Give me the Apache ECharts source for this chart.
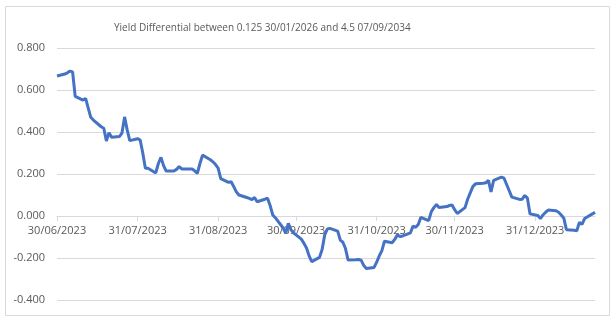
<!DOCTYPE html>
<html>
<head>
<meta charset="utf-8">
<script src="https://cdn.jsdelivr.net/npm/echarts@6/dist/echarts.min.js"></script>
<style>
  html, body { margin: 0; padding: 0; background: #fff; }
  #chart { width: 616px; height: 322px; }
</style>
</head>
<body>
<div id="chart"></div>
<script>
const startDay = '30/06/2023';
const endDay = '23/01/2024';

const tickLabels = ['30/06/2023', '31/07/2023', '31/08/2023', '30/09/2023', '31/10/2023', '30/11/2023', '31/12/2023'];

const dates = [
  '30/06/2023', '03/07/2023', '04/07/2023', '05/07/2023', '06/07/2023', '07/07/2023',
  '10/07/2023', '11/07/2023', '12/07/2023', '13/07/2023', '14/07/2023',
  '17/07/2023', '18/07/2023', '19/07/2023', '20/07/2023', '21/07/2023',
  '24/07/2023', '25/07/2023', '26/07/2023', '27/07/2023', '28/07/2023',
  '31/07/2023', '01/08/2023', '02/08/2023', '03/08/2023', '04/08/2023',
  '07/08/2023', '08/08/2023', '09/08/2023', '10/08/2023', '11/08/2023',
  '14/08/2023', '15/08/2023', '16/08/2023', '17/08/2023', '18/08/2023',
  '21/08/2023', '22/08/2023', '23/08/2023', '24/08/2023', '25/08/2023',
  '28/08/2023', '29/08/2023', '30/08/2023', '31/08/2023', '01/09/2023',
  '04/09/2023', '05/09/2023', '06/09/2023', '07/09/2023', '08/09/2023',
  '11/09/2023', '12/09/2023', '13/09/2023', '14/09/2023', '15/09/2023',
  '18/09/2023', '19/09/2023', '20/09/2023', '21/09/2023', '22/09/2023',
  '25/09/2023', '26/09/2023', '27/09/2023', '28/09/2023', '29/09/2023',
  '02/10/2023', '03/10/2023', '04/10/2023', '05/10/2023', '06/10/2023',
  '09/10/2023', '10/10/2023', '11/10/2023', '12/10/2023', '13/10/2023',
  '16/10/2023', '17/10/2023', '18/10/2023', '19/10/2023', '20/10/2023',
  '23/10/2023', '24/10/2023', '25/10/2023', '26/10/2023', '27/10/2023',
  '30/10/2023', '31/10/2023', '01/11/2023', '02/11/2023', '03/11/2023',
  '06/11/2023', '07/11/2023', '08/11/2023', '09/11/2023', '10/11/2023',
  '13/11/2023', '14/11/2023', '15/11/2023', '16/11/2023', '17/11/2023',
  '20/11/2023', '21/11/2023', '22/11/2023', '23/11/2023', '24/11/2023',
  '27/11/2023', '28/11/2023', '29/11/2023', '30/11/2023', '01/12/2023',
  '04/12/2023', '05/12/2023', '06/12/2023', '07/12/2023', '08/12/2023',
  '11/12/2023', '12/12/2023', '13/12/2023', '14/12/2023', '15/12/2023',
  '18/12/2023', '19/12/2023', '20/12/2023', '21/12/2023', '22/12/2023',
  '25/12/2023', '26/12/2023', '27/12/2023', '28/12/2023', '29/12/2023',
  '01/01/2024', '02/01/2024', '03/01/2024', '04/01/2024', '05/01/2024',
  '08/01/2024', '09/01/2024', '10/01/2024', '11/01/2024', '12/01/2024',
  '15/01/2024', '16/01/2024', '17/01/2024', '18/01/2024', '19/01/2024',
  '22/01/2024', '23/01/2024'
];

const spread = [
  0.667, 0.676, 0.682, 0.690, 0.686, 0.570,
  0.552, 0.560, 0.515, 0.470, 0.457,
  0.425, 0.418, 0.357, 0.397, 0.375,
  0.378, 0.395, 0.472, 0.410, 0.359,
  0.368, 0.362, 0.300, 0.227, 0.227,
  0.205, 0.250, 0.279, 0.240, 0.214,
  0.214, 0.222, 0.235, 0.224, 0.224,
  0.224, 0.215, 0.203, 0.250, 0.290,
  0.268, 0.258, 0.245, 0.228, 0.178,
  0.160, 0.163, 0.140, 0.115, 0.100,
  0.088, 0.084, 0.078, 0.088, 0.068,
  0.080, 0.085, 0.050, 0.005, -0.008,
  -0.057, -0.083, -0.035, -0.065, -0.080,
  -0.110, -0.130, -0.152, -0.190, -0.217,
  -0.197, -0.160, -0.090, -0.062, -0.059,
  -0.072, -0.115, -0.125, -0.155, -0.210,
  -0.208, -0.207, -0.210, -0.235, -0.250,
  -0.245, -0.220, -0.190, -0.165, -0.120,
  -0.127, -0.110, -0.090, -0.098, -0.095,
  -0.080, -0.048, -0.054, -0.040, -0.006,
  -0.022, 0.020, 0.040, 0.055, 0.040,
  0.045, 0.050, 0.052, 0.030, 0.012,
  0.040, 0.080, 0.110, 0.140, 0.153,
  0.156, 0.158, 0.170, 0.115, 0.170,
  0.185, 0.180, 0.150, 0.120, 0.090,
  0.079, 0.080, 0.098, 0.085, 0.010,
  0.002, -0.012, 0.005, 0.018, 0.028,
  0.025, 0.018, 0.005, -0.010, -0.065,
  -0.068, -0.070, -0.030, -0.040, -0.012,
  0.010, 0.018
];

// one category per calendar day so the month ticks land where Excel put them
function parseDay(s) {
  const p = s.split('/');
  return Date.UTC(+p[2], +p[1] - 1, +p[0]);
}
function fmtDay(t) {
  const d = new Date(t);
  const dd = String(d.getUTCDate()).padStart(2, '0');
  const mm = String(d.getUTCMonth() + 1).padStart(2, '0');
  return dd + '/' + mm + '/' + d.getUTCFullYear();
}
const days = [];
for (let t = parseDay(startDay); t <= parseDay(endDay); t += 86400000) {
  days.push(fmtDay(t));
}

const seriesData = dates.map((d, i) => [d, spread[i]]);
const isTick = (idx, val) => tickLabels.includes(val);

const font = "'Open Sans', 'Noto Sans', sans-serif";
const myChart = echarts.init(document.getElementById('chart'), null, { renderer: 'canvas' });

const option = {
  animation: false,
  backgroundColor: '#fff',
  title: {
    text: 'Yield Differential between 0.125 30/01/2026 and 4.5 07/09/2034',
    left: 109,
    top: 18,
    textStyle: { fontFamily: font, fontSize: 10, fontWeight: 'normal', color: '#595959' }
  },
  graphic: [{
    type: 'rect',
    shape: { x: 5.5, y: 6.5, width: 604, height: 309 },
    style: { fill: 'none', stroke: '#d9d9d9', lineWidth: 1 },
    silent: true
  }],
  grid: { left: 57, right: 21, top: 48, bottom: 22 },
  xAxis: {
    type: 'category',
    data: days,
    boundaryGap: false,
    // axis sits on the zero line (grid bottom is 84px below it)
    offset: -84,
    axisLine: { onZero: false, lineStyle: { color: '#d9d9d9' } },
    axisTick: { interval: isTick, length: 5, lineStyle: { color: '#d9d9d9' } },
    axisLabel: {
      interval: isTick,
      margin: 9,
      fontFamily: font,
      fontSize: 11,
      color: '#595959'
    },
    splitLine: { show: false }
  },
  yAxis: {
    type: 'value',
    min: -0.4,
    max: 0.8,
    interval: 0.2,
    axisLine: { show: false },
    axisTick: { show: false },
    axisLabel: {
      margin: 12,
      fontFamily: font,
      fontSize: 11,
      color: '#595959',
      formatter: v => v.toFixed(3)
    },
    splitLine: { lineStyle: { color: '#d9d9d9' } }
  },
  series: [{
    type: 'line',
    data: seriesData,
    showSymbol: false,
    symbol: 'none',
    lineStyle: { color: '#4472c4', width: 3 },
    z: 3
  }]
};

myChart.setOption(option);
</script>
</body>
</html>
